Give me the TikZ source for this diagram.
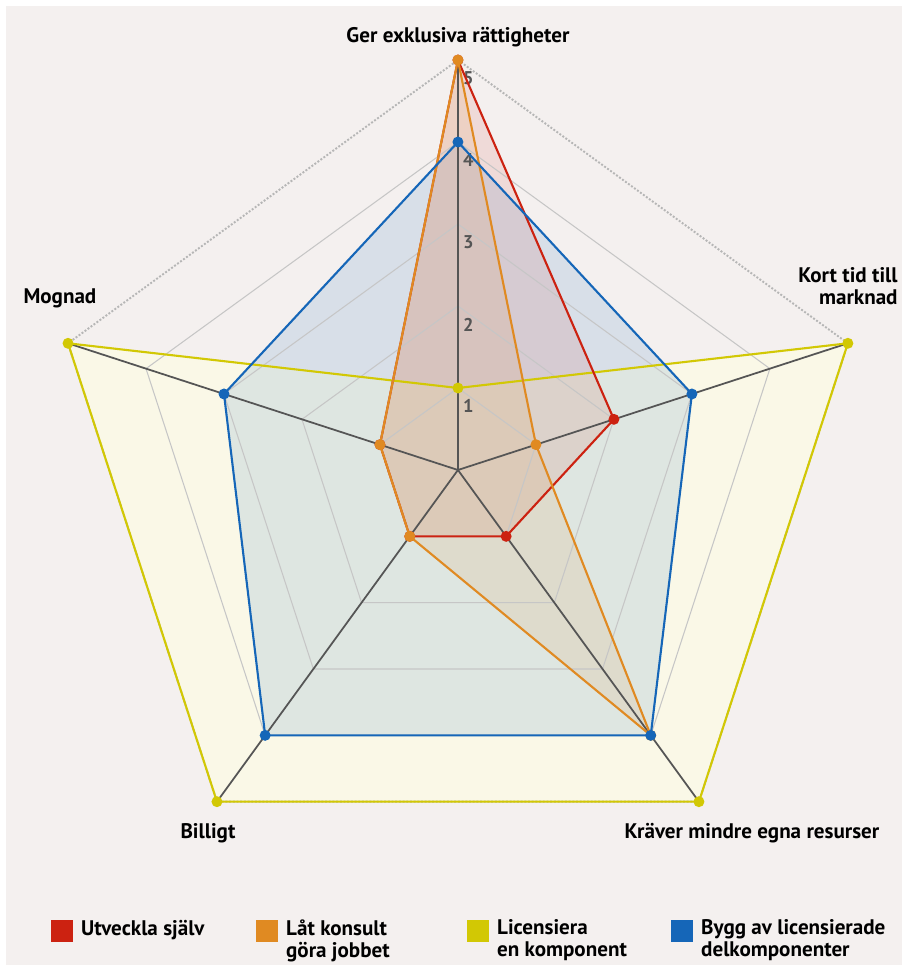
\documentclass[tikz,border=0pt]{standalone}
\usepackage{fontspec}
\setmainfont{PT Sans}
\usetikzlibrary{positioning}

\definecolor{bakgrund}{HTML}{F4F0EF}
\definecolor{utv}{HTML}{CC2211}
\definecolor{kons}{HTML}{E08A22}
\definecolor{lic}{HTML}{D2C804}
\definecolor{bygg}{HTML}{1566B8}
\definecolor{licfill}{HTML}{FAF8E7}
\definecolor{axelgra}{HTML}{555555}
\definecolor{natgra}{HTML}{C6C6C6}

\tikzset{
  natlinje/.style={natgra, line width=0.6pt},
  yttre/.style={natgra!92!black, line width=1.1pt, densely dotted},
  axel/.style={axelgra, line width=1pt},
  serie/.style={#1, line width=1.2pt, line join=round},
  etikett/.style={font=\fontsize{12}{12.5}\selectfont\bfseries, inner sep=0pt},
  skala/.style={font=\fontsize{10.5}{10.5}\selectfont\bfseries, text=axelgra, inner sep=0pt, anchor=north west},
  ruta/.style={fill=#1, draw=none, minimum size=0.44cm, inner sep=0pt},
  legtext/.style={etikett, align=left, anchor=north west}
}

\begin{document}
\begin{tikzpicture}[x=1.64cm, y=1.64cm]
  \useasboundingbox (-5.585,-6.110) rectangle (5.488,5.732);
  \fill[white] (-5.585,-6.110) rectangle (5.488,5.732);
  \fill[bakgrund] (-5.51,-6.037) rectangle (5.415,5.66);

  \coordinate (C) at (0,0);
  \foreach \a/\w in {ger/90, kort/18, krav/-54, bill/-126, mogn/162} {
    \coordinate (\a) at (\w:5);
  }
  \foreach \s/\va/\vb/\vc/\vd/\ve in {utv/5/2/1/1/1, kons/5/1/4/1/1, lic/1/5/5/5/5, bygg/4/3/4/4/3} {
    \coordinate (\s-1) at (90:\va);
    \coordinate (\s-2) at (18:\vb);
    \coordinate (\s-3) at (-54:\vc);
    \coordinate (\s-4) at (-126:\vd);
    \coordinate (\s-5) at (162:\ve);
  }

  % ytor
  \fill[licfill] (lic-1) -- (lic-2) -- (lic-3) -- (lic-4) -- (lic-5) -- cycle;
  \fill[bygg, fill opacity=.12] (bygg-1) -- (bygg-2) -- (bygg-3) -- (bygg-4) -- (bygg-5) -- cycle;
  \fill[utv, fill opacity=.10] (utv-1) -- (utv-2) -- (utv-3) -- (utv-4) -- (utv-5) -- cycle;
  \fill[kons, fill opacity=.11] (kons-1) -- (kons-2) -- (kons-3) -- (kons-4) -- (kons-5) -- cycle;

  % rutnat
  \foreach \r in {1,...,4} {
    \draw[natlinje] (90:\r) -- (18:\r) -- (-54:\r) -- (-126:\r) -- (162:\r) -- cycle;
  }
  \draw[yttre] (ger) -- (kort) -- (krav) -- (bill) -- (mogn) -- cycle;
  \foreach \a in {ger, kort, krav, bill, mogn} {
    \draw[axel] (C) -- (\a);
  }
  \foreach \r in {1,...,5} {
    \node[skala] (tick\r) at (0.06,\r-0.14) {\r};
  }

  % serier
  \foreach \s in {lic, utv, kons, bygg} {
    \draw[serie=\s] (\s-1) -- (\s-2) -- (\s-3) -- (\s-4) -- (\s-5) -- cycle;
    \foreach \k in {1,...,5} {
      \fill[\s] (\s-\k) circle (0.067);
    }
  }

  % etiketter
  \node[etikett] (lger) at (0,5.28) {Ger exklusiva rättigheter};
  \node[etikett, align=right, anchor=east] (lkort) at (5.366,2.244) {Kort tid till\\marknad};
  \node[etikett] (lmogn) at (-4.854,2.098) {Mognad};
  \node[etikett] (lbill) at (-3.049,-4.427) {Billigt};
  \node[etikett] (lkrav) at (3.585,-4.427) {Kräver mindre egna resurser};

  % teckenforklaring
  \node[ruta=utv] (sutv) at (-4.829,-5.622) {};
  \node[ruta=kons] (skons) at (-2.329,-5.622) {};
  \node[ruta=lic] (slic) at (0.244,-5.622) {};
  \node[ruta=bygg] (sbygg) at (2.732,-5.622) {};
  \node[legtext, right=0.15cm of sutv.north east, anchor=north west] (tutv) {Utveckla själv};
  \node[legtext, right=0.15cm of skons.north east, anchor=north west] (tkons) {Låt konsult\\göra jobbet};
  \node[legtext, right=0.15cm of slic.north east, anchor=north west] (tlic) {Licensiera\\en komponent};
  \node[legtext, right=0.15cm of sbygg.north east, anchor=north west] (tbygg) {Bygg av licensierade\\delkomponenter};
\end{tikzpicture}
\end{document}
